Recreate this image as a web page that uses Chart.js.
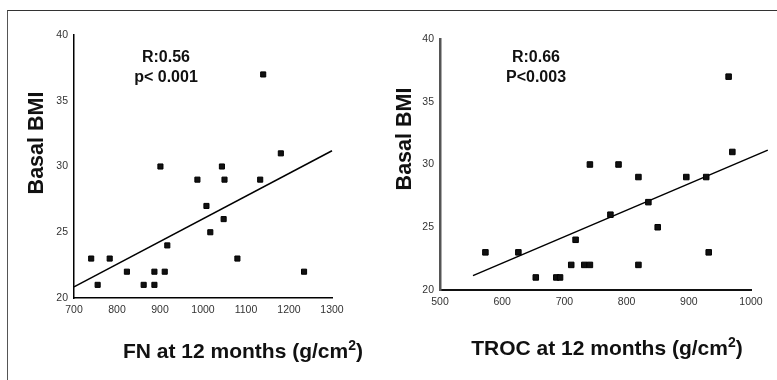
<!DOCTYPE html>
<html>
<head>
<meta charset="utf-8">
<script src="https://cdn.jsdelivr.net/npm/chart.js@4.4.1/dist/chart.umd.min.js"></script>
<style>
  body { margin: 0; background: #fff; font-family: "Liberation Sans", Arial, sans-serif; }
  #wrap { position: relative; width: 777px; height: 380px; overflow: hidden; }
  #frame { position: absolute; left: 7px; top: 10px; width: 780px; height: 380px;
           border-top: 1px solid #333; border-left: 1.5px solid #555; }
  canvas { position: absolute; top: 0; }
  .txt { position: absolute; font-weight: bold; color: #111; white-space: nowrap; text-align: center; }
  .stat { font-size: 16px; line-height: 20px; width: 140px; }
  .ytitle { font-size: 21.5px; line-height: 24px; width: 140px; transform: rotate(-90deg); }
  .xtitle { font-size: 21px; line-height: 24px; width: 300px; }
  .xtitle sup { font-size: 14px; line-height: 0; vertical-align: 8px; }
</style>
</head>
<body>
<div id="wrap">
  <div id="frame"></div>
  <canvas id="fnChart" width="390" height="380" style="left:0"></canvas>
  <canvas id="trocChart" width="387" height="380" style="left:390px"></canvas>

  <div class="txt stat" style="left:96px; top:47px">R:0.56<br>p&lt; 0.001</div>
  <div class="txt stat" style="left:466px; top:47px">R:0.66<br>P&lt;0.003</div>

  <div class="txt ytitle" style="left:-34px; top:131px">Basal BMI</div>
  <div class="txt ytitle" style="left:334px; top:127px">Basal BMI</div>

  <div class="txt xtitle" style="left:93px; top:339px">FN at 12 months (g/cm<sup>2</sup>)</div>
  <div class="txt xtitle" style="left:457px; top:336px">TROC at 12 months (g/cm<sup>2</sup>)</div>
</div>

<script>
// FN panel (x = FN at 12 months, y = basal BMI)
const fnX = [740, 755, 783, 823, 862, 887, 887, 911, 901, 917, 987, 1008, 1017, 1044, 1050, 1048, 1080, 1133, 1140, 1181, 1235];
const fnY = [23, 21, 23, 22, 21, 22, 21, 22, 30, 24, 29, 27, 25, 30, 29, 26, 23, 29, 37, 31, 22];
const fnFitX = [700, 1300];
const fnFitY = [20.85, 31.2];

// TROC panel
const trocX = [573, 626, 654, 687, 693, 711, 732, 741, 718, 741, 774, 787, 819, 819, 835, 850, 896, 928, 932, 964, 970];
const trocY = [23, 23, 21, 21, 21, 22, 22, 22, 24, 30, 26, 30, 29, 22, 27, 25, 29, 29, 23, 37, 31];
const trocFitX = [553, 1027];
const trocFitY = [21.15, 31.15];

const bmiRange = [20, 40];
const fnRange = [700, 1300];
const trocRange = [500, 1000];

function toPoints(xs, ys) {
    return xs.map((x, i) => ({ x: x, y: ys[i] }));
}

// build one scatter panel with its regression line
function makePanel(id, cfg) {
    const ctx = document.getElementById(id).getContext('2d');
    const tickFont = { size: 10.5, family: 'Liberation Sans' };
    new Chart(ctx, {
        type: 'scatter',
        data: {
            datasets: [
                {
                    data: toPoints(cfg.xs, cfg.ys),
                    pointStyle: 'rect',
                    pointRadius: cfg.pointRadius,
                    backgroundColor: '#111',
                    borderColor: '#000',
                    borderWidth: 1,
                },
                {
                    type: 'line',
                    data: toPoints(cfg.fitX, cfg.fitY),
                    borderColor: '#000',
                    borderWidth: 1.5,
                    pointRadius: 0,
                    clip: false,
                },
            ],
        },
        options: {
            responsive: false,
            animation: false,
            layout: { padding: cfg.padding },
            plugins: { legend: { display: false }, tooltip: { enabled: false } },
            scales: {
                x: {
                    type: 'linear',
                    min: cfg.xRange[0],
                    max: cfg.xRange[1],
                    grid: { display: false, drawTicks: false },
                    border: { display: true, color: cfg.xAxisColor, width: cfg.xAxisWidth },
                    ticks: { stepSize: 100, padding: 6, color: '#333', font: tickFont, callback: v => String(v) },
                    afterFit: s => { s.height = cfg.xHeight; },
                },
                y: {
                    min: bmiRange[0],
                    max: bmiRange[1],
                    grid: { display: false, drawTicks: false },
                    border: { display: true, color: cfg.yAxisColor, width: cfg.yAxisWidth },
                    ticks: { stepSize: 5, padding: 6, color: '#333', font: tickFont, callback: v => String(v) },
                    afterFit: s => { s.width = cfg.yWidth; },
                },
            },
        },
    });
}

makePanel('fnChart', {
    xs: fnX, ys: fnY, fitX: fnFitX, fitY: fnFitY, xRange: fnRange,
    pointRadius: 3.6,
    padding: { left: 0, top: 35, right: 58, bottom: 0 },
    yWidth: 74, xHeight: 82,
    xAxisColor: '#000', xAxisWidth: 1.5, yAxisColor: '#000', yAxisWidth: 1.5,
});

makePanel('trocChart', {
    xs: trocX, ys: trocY, fitX: trocFitX, fitY: trocFitY, xRange: trocRange,
    pointRadius: 3.9,
    padding: { left: 0, top: 39, right: 26, bottom: 0 },
    yWidth: 50, xHeight: 90,
    xAxisColor: '#111', xAxisWidth: 2, yAxisColor: '#555', yAxisWidth: 2.5,
});
</script>
</body>
</html>
